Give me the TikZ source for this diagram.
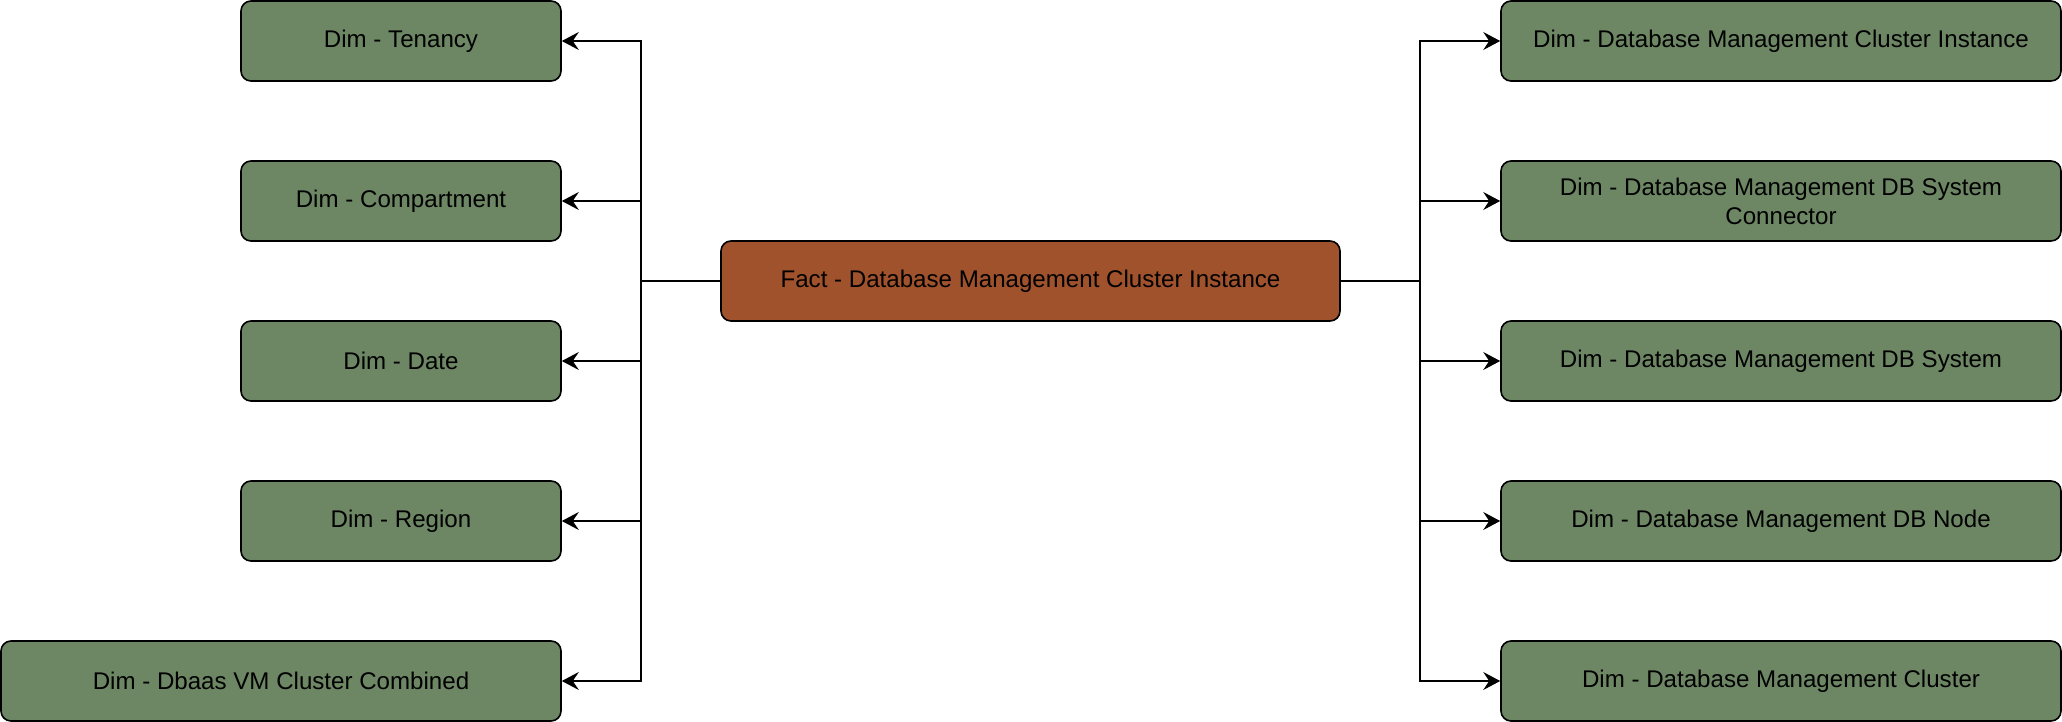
\documentclass[tikz,border=0pt]{standalone}
\usepackage{fontspec}
\setmainfont{Liberation Sans}
\usetikzlibrary{arrows.meta}
\definecolor{dimgreen}{HTML}{6D8764}
\definecolor{factbrown}{HTML}{A0522D}
\begin{document}
\begin{tikzpicture}[x=1bp,y=-1bp,
  box/.style={draw=black, line width=1.6bp, rounded corners=10bp, minimum height=80bp,
    inner sep=0pt, align=center, font=\fontsize{24.2}{29}\selectfont},
  dim/.style={box, fill=dimgreen},
  fact/.style={box, fill=factbrown},
  conn/.style={draw=black, line width=1.6bp},
  arr/.style={conn, -{Stealth[length=17bp,width=18bp,inset=6bp]}}]
\useasboundingbox (0,0) rectangle (2062,722);

\node[fact, minimum width=619bp] (fact) at (1030.5,281) {Fact - Database Management Cluster Instance};

\node[dim, minimum width=320bp] (l1) at (401,41) {Dim - Tenancy};
\node[dim, minimum width=320bp] (l2) at (401,201) {Dim - Compartment};
\node[dim, minimum width=320bp] (l3) at (401,361) {Dim - Date};
\node[dim, minimum width=320bp] (l4) at (401,521) {Dim - Region};
\node[dim, minimum width=560bp] (l5) at (281,681) {Dim - Dbaas VM Cluster Combined};

\node[dim, minimum width=560bp] (r1) at (1781,41) {Dim - Database Management Cluster Instance};
\node[dim, minimum width=560bp] (r2) at (1781,201) {Dim - Database Management DB System\\Connector};
\node[dim, minimum width=560bp] (r3) at (1781,361) {Dim - Database Management DB System};
\node[dim, minimum width=560bp] (r4) at (1781,521) {Dim - Database Management DB Node};
\node[dim, minimum width=560bp] (r5) at (1781,681) {Dim - Database Management Cluster};

\coordinate (lt) at (641,281);
\coordinate (rt) at (1420,281);

\foreach \n in {l1,l2,l3,l4,l5}
  \draw[arr] (fact.west) -- (lt) |- (\n.east);
\foreach \n in {r1,r2,r3,r4,r5}
  \draw[arr] (fact.east) -- (rt) |- (\n.west);
\end{tikzpicture}
\end{document}
